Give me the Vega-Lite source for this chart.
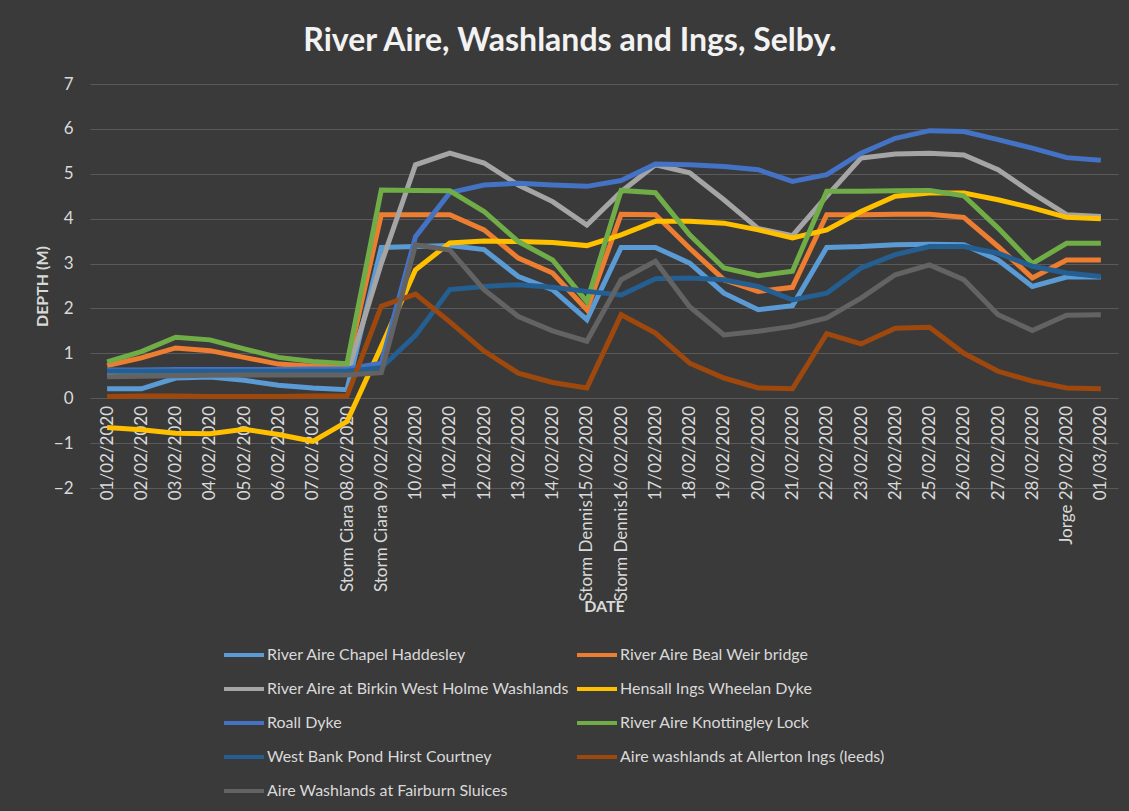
{
  "$schema": "https://vega.github.io/schema/vega-lite/v6.json",
  "width": 1028,
  "height": 404,
  "autosize": {"type": "none"},
  "padding": {"left": 90, "top": 84, "right": 11, "bottom": 323},
  "background": "#3a3a3a",
  "title": {
    "text": "River Aire, Washlands and Ings, Selby.",
    "font": "Lato",
    "fontSize": 32,
    "fontWeight": "bold",
    "color": "#f2f2f2",
    "anchor": "middle",
    "baseline": "alphabetic",
    "offset": -8,
    "dx": -34
  },
  "config": {
    "view": {"stroke": null},
    "axis": {"gridColor": "#5a5a5a", "gridWidth": 1}
  },
  "data": {
    "values": [
      {"date": "01/02/2020", "River Aire Chapel Haddesley": 0.21, "River Aire Beal Weir bridge": 0.73, "River Aire at Birkin West Holme Washlands": 0.52, "Hensall Ings Wheelan Dyke": -0.65, "Roall Dyke": 0.63, "River Aire Knottingley Lock": 0.81, "West Bank Pond Hirst Courtney": 0.6, "Aire washlands at Allerton Ings (leeds)": 0.04, "Aire Washlands at Fairburn Sluices": 0.48},
      {"date": "02/02/2020", "River Aire Chapel Haddesley": 0.21, "River Aire Beal Weir bridge": 0.9, "River Aire at Birkin West Holme Washlands": 0.52, "Hensall Ings Wheelan Dyke": -0.7, "Roall Dyke": 0.63, "River Aire Knottingley Lock": 1.04, "West Bank Pond Hirst Courtney": 0.6, "Aire washlands at Allerton Ings (leeds)": 0.05, "Aire Washlands at Fairburn Sluices": 0.49},
      {"date": "03/02/2020", "River Aire Chapel Haddesley": 0.45, "River Aire Beal Weir bridge": 1.12, "River Aire at Birkin West Holme Washlands": 0.53, "Hensall Ings Wheelan Dyke": -0.78, "Roall Dyke": 0.64, "River Aire Knottingley Lock": 1.36, "West Bank Pond Hirst Courtney": 0.6, "Aire washlands at Allerton Ings (leeds)": 0.05, "Aire Washlands at Fairburn Sluices": 0.5},
      {"date": "04/02/2020", "River Aire Chapel Haddesley": 0.47, "River Aire Beal Weir bridge": 1.06, "River Aire at Birkin West Holme Washlands": 0.53, "Hensall Ings Wheelan Dyke": -0.79, "Roall Dyke": 0.64, "River Aire Knottingley Lock": 1.3, "West Bank Pond Hirst Courtney": 0.6, "Aire washlands at Allerton Ings (leeds)": 0.04, "Aire Washlands at Fairburn Sluices": 0.51},
      {"date": "05/02/2020", "River Aire Chapel Haddesley": 0.4, "River Aire Beal Weir bridge": 0.91, "River Aire at Birkin West Holme Washlands": 0.53, "Hensall Ings Wheelan Dyke": -0.69, "Roall Dyke": 0.64, "River Aire Knottingley Lock": 1.1, "West Bank Pond Hirst Courtney": 0.6, "Aire washlands at Allerton Ings (leeds)": 0.04, "Aire Washlands at Fairburn Sluices": 0.52},
      {"date": "06/02/2020", "River Aire Chapel Haddesley": 0.29, "River Aire Beal Weir bridge": 0.76, "River Aire at Birkin West Holme Washlands": 0.53, "Hensall Ings Wheelan Dyke": -0.81, "Roall Dyke": 0.64, "River Aire Knottingley Lock": 0.91, "West Bank Pond Hirst Courtney": 0.6, "Aire washlands at Allerton Ings (leeds)": 0.04, "Aire Washlands at Fairburn Sluices": 0.52},
      {"date": "07/02/2020", "River Aire Chapel Haddesley": 0.23, "River Aire Beal Weir bridge": 0.71, "River Aire at Birkin West Holme Washlands": 0.53, "Hensall Ings Wheelan Dyke": -0.96, "Roall Dyke": 0.65, "River Aire Knottingley Lock": 0.82, "West Bank Pond Hirst Courtney": 0.6, "Aire washlands at Allerton Ings (leeds)": 0.05, "Aire Washlands at Fairburn Sluices": 0.52},
      {"date": "Storm  Ciara 08/02/2020", "River Aire Chapel Haddesley": 0.19, "River Aire Beal Weir bridge": 0.7, "River Aire at Birkin West Holme Washlands": 0.53, "Hensall Ings Wheelan Dyke": -0.52, "Roall Dyke": 0.65, "River Aire Knottingley Lock": 0.77, "West Bank Pond Hirst Courtney": 0.6, "Aire washlands at Allerton Ings (leeds)": 0.05, "Aire Washlands at Fairburn Sluices": 0.52},
      {"date": "Storm  Ciara 09/02/2020", "River Aire Chapel Haddesley": 3.36, "River Aire Beal Weir bridge": 4.09, "River Aire at Birkin West Holme Washlands": 3.0, "Hensall Ings Wheelan Dyke": 1.15, "Roall Dyke": 0.78, "River Aire Knottingley Lock": 4.64, "West Bank Pond Hirst Courtney": 0.68, "Aire washlands at Allerton Ings (leeds)": 2.05, "Aire Washlands at Fairburn Sluices": 0.57},
      {"date": "10/02/2020", "River Aire Chapel Haddesley": 3.38, "River Aire Beal Weir bridge": 4.09, "River Aire at Birkin West Holme Washlands": 5.2, "Hensall Ings Wheelan Dyke": 2.86, "Roall Dyke": 3.6, "River Aire Knottingley Lock": 4.63, "West Bank Pond Hirst Courtney": 1.4, "Aire washlands at Allerton Ings (leeds)": 2.32, "Aire Washlands at Fairburn Sluices": 3.42},
      {"date": "11/02/2020", "River Aire Chapel Haddesley": 3.4, "River Aire Beal Weir bridge": 4.09, "River Aire at Birkin West Holme Washlands": 5.46, "Hensall Ings Wheelan Dyke": 3.46, "Roall Dyke": 4.58, "River Aire Knottingley Lock": 4.62, "West Bank Pond Hirst Courtney": 2.42, "Aire washlands at Allerton Ings (leeds)": 1.7, "Aire Washlands at Fairburn Sluices": 3.3},
      {"date": "12/02/2020", "River Aire Chapel Haddesley": 3.31, "River Aire Beal Weir bridge": 3.75, "River Aire at Birkin West Holme Washlands": 5.24, "Hensall Ings Wheelan Dyke": 3.5, "Roall Dyke": 4.75, "River Aire Knottingley Lock": 4.16, "West Bank Pond Hirst Courtney": 2.49, "Aire washlands at Allerton Ings (leeds)": 1.05, "Aire Washlands at Fairburn Sluices": 2.42},
      {"date": "13/02/2020", "River Aire Chapel Haddesley": 2.71, "River Aire Beal Weir bridge": 3.12, "River Aire at Birkin West Holme Washlands": 4.75, "Hensall Ings Wheelan Dyke": 3.49, "Roall Dyke": 4.79, "River Aire Knottingley Lock": 3.49, "West Bank Pond Hirst Courtney": 2.53, "Aire washlands at Allerton Ings (leeds)": 0.56, "Aire Washlands at Fairburn Sluices": 1.82},
      {"date": "14/02/2020", "River Aire Chapel Haddesley": 2.42, "River Aire Beal Weir bridge": 2.79, "River Aire at Birkin West Holme Washlands": 4.38, "Hensall Ings Wheelan Dyke": 3.47, "Roall Dyke": 4.75, "River Aire Knottingley Lock": 3.08, "West Bank Pond Hirst Courtney": 2.47, "Aire washlands at Allerton Ings (leeds)": 0.35, "Aire Washlands at Fairburn Sluices": 1.5},
      {"date": "Storm  Dennis15/02/2020", "River Aire Chapel Haddesley": 1.75, "River Aire Beal Weir bridge": 1.97, "River Aire at Birkin West Holme Washlands": 3.86, "Hensall Ings Wheelan Dyke": 3.4, "Roall Dyke": 4.72, "River Aire Knottingley Lock": 2.15, "West Bank Pond Hirst Courtney": 2.38, "Aire washlands at Allerton Ings (leeds)": 0.23, "Aire Washlands at Fairburn Sluices": 1.27},
      {"date": "Storm  Dennis16/02/2020", "River Aire Chapel Haddesley": 3.36, "River Aire Beal Weir bridge": 4.1, "River Aire at Birkin West Holme Washlands": 4.6, "Hensall Ings Wheelan Dyke": 3.64, "Roall Dyke": 4.85, "River Aire Knottingley Lock": 4.63, "West Bank Pond Hirst Courtney": 2.3, "Aire washlands at Allerton Ings (leeds)": 1.86, "Aire Washlands at Fairburn Sluices": 2.64},
      {"date": "17/02/2020", "River Aire Chapel Haddesley": 3.36, "River Aire Beal Weir bridge": 4.09, "River Aire at Birkin West Holme Washlands": 5.2, "Hensall Ings Wheelan Dyke": 3.94, "Roall Dyke": 5.22, "River Aire Knottingley Lock": 4.58, "West Bank Pond Hirst Courtney": 2.66, "Aire washlands at Allerton Ings (leeds)": 1.45, "Aire Washlands at Fairburn Sluices": 3.05},
      {"date": "18/02/2020", "River Aire Chapel Haddesley": 3.01, "River Aire Beal Weir bridge": 3.34, "River Aire at Birkin West Holme Washlands": 5.02, "Hensall Ings Wheelan Dyke": 3.94, "Roall Dyke": 5.2, "River Aire Knottingley Lock": 3.64, "West Bank Pond Hirst Courtney": 2.68, "Aire washlands at Allerton Ings (leeds)": 0.78, "Aire Washlands at Fairburn Sluices": 2.04},
      {"date": "19/02/2020", "River Aire Chapel Haddesley": 2.34, "River Aire Beal Weir bridge": 2.64, "River Aire at Birkin West Holme Washlands": 4.42, "Hensall Ings Wheelan Dyke": 3.9, "Roall Dyke": 5.16, "River Aire Knottingley Lock": 2.9, "West Bank Pond Hirst Courtney": 2.64, "Aire washlands at Allerton Ings (leeds)": 0.45, "Aire Washlands at Fairburn Sluices": 1.41},
      {"date": "20/02/2020", "River Aire Chapel Haddesley": 1.97, "River Aire Beal Weir bridge": 2.38, "River Aire at Birkin West Holme Washlands": 3.78, "Hensall Ings Wheelan Dyke": 3.75, "Roall Dyke": 5.09, "River Aire Knottingley Lock": 2.73, "West Bank Pond Hirst Courtney": 2.49, "Aire washlands at Allerton Ings (leeds)": 0.23, "Aire Washlands at Fairburn Sluices": 1.49},
      {"date": "21/02/2020", "River Aire Chapel Haddesley": 2.06, "River Aire Beal Weir bridge": 2.47, "River Aire at Birkin West Holme Washlands": 3.62, "Hensall Ings Wheelan Dyke": 3.57, "Roall Dyke": 4.83, "River Aire Knottingley Lock": 2.83, "West Bank Pond Hirst Courtney": 2.19, "Aire washlands at Allerton Ings (leeds)": 0.21, "Aire Washlands at Fairburn Sluices": 1.6},
      {"date": "22/02/2020", "River Aire Chapel Haddesley": 3.36, "River Aire Beal Weir bridge": 4.09, "River Aire at Birkin West Holme Washlands": 4.5, "Hensall Ings Wheelan Dyke": 3.75, "Roall Dyke": 4.98, "River Aire Knottingley Lock": 4.61, "West Bank Pond Hirst Courtney": 2.34, "Aire washlands at Allerton Ings (leeds)": 1.44, "Aire Washlands at Fairburn Sluices": 1.79},
      {"date": "23/02/2020", "River Aire Chapel Haddesley": 3.38, "River Aire Beal Weir bridge": 4.09, "River Aire at Birkin West Holme Washlands": 5.35, "Hensall Ings Wheelan Dyke": 4.16, "Roall Dyke": 5.46, "River Aire Knottingley Lock": 4.61, "West Bank Pond Hirst Courtney": 2.9, "Aire washlands at Allerton Ings (leeds)": 1.21, "Aire Washlands at Fairburn Sluices": 2.23},
      {"date": "24/02/2020", "River Aire Chapel Haddesley": 3.42, "River Aire Beal Weir bridge": 4.1, "River Aire at Birkin West Holme Washlands": 5.44, "Hensall Ings Wheelan Dyke": 4.5, "Roall Dyke": 5.79, "River Aire Knottingley Lock": 4.62, "West Bank Pond Hirst Courtney": 3.2, "Aire washlands at Allerton Ings (leeds)": 1.56, "Aire Washlands at Fairburn Sluices": 2.75},
      {"date": "25/02/2020", "River Aire Chapel Haddesley": 3.43, "River Aire Beal Weir bridge": 4.1, "River Aire at Birkin West Holme Washlands": 5.46, "Hensall Ings Wheelan Dyke": 4.57, "Roall Dyke": 5.96, "River Aire Knottingley Lock": 4.63, "West Bank Pond Hirst Courtney": 3.38, "Aire washlands at Allerton Ings (leeds)": 1.58, "Aire Washlands at Fairburn Sluices": 2.97},
      {"date": "26/02/2020", "River Aire Chapel Haddesley": 3.42, "River Aire Beal Weir bridge": 4.03, "River Aire at Birkin West Holme Washlands": 5.42, "Hensall Ings Wheelan Dyke": 4.57, "Roall Dyke": 5.94, "River Aire Knottingley Lock": 4.51, "West Bank Pond Hirst Courtney": 3.38, "Aire washlands at Allerton Ings (leeds)": 1.0, "Aire Washlands at Fairburn Sluices": 2.64},
      {"date": "27/02/2020", "River Aire Chapel Haddesley": 3.08, "River Aire Beal Weir bridge": 3.38, "River Aire at Birkin West Holme Washlands": 5.09, "Hensall Ings Wheelan Dyke": 4.42, "Roall Dyke": 5.76, "River Aire Knottingley Lock": 3.79, "West Bank Pond Hirst Courtney": 3.23, "Aire washlands at Allerton Ings (leeds)": 0.6, "Aire Washlands at Fairburn Sluices": 1.86},
      {"date": "28/02/2020", "River Aire Chapel Haddesley": 2.49, "River Aire Beal Weir bridge": 2.68, "River Aire at Birkin West Holme Washlands": 4.57, "Hensall Ings Wheelan Dyke": 4.24, "Roall Dyke": 5.57, "River Aire Knottingley Lock": 3.0, "West Bank Pond Hirst Courtney": 2.94, "Aire washlands at Allerton Ings (leeds)": 0.38, "Aire Washlands at Fairburn Sluices": 1.51},
      {"date": "Jorge 29/02/2020", "River Aire Chapel Haddesley": 2.7, "River Aire Beal Weir bridge": 3.08, "River Aire at Birkin West Holme Washlands": 4.09, "Hensall Ings Wheelan Dyke": 4.03, "Roall Dyke": 5.36, "River Aire Knottingley Lock": 3.45, "West Bank Pond Hirst Courtney": 2.79, "Aire washlands at Allerton Ings (leeds)": 0.23, "Aire Washlands at Fairburn Sluices": 1.85},
      {"date": "01/03/2020", "River Aire Chapel Haddesley": 2.7, "River Aire Beal Weir bridge": 3.08, "River Aire at Birkin West Holme Washlands": 4.05, "Hensall Ings Wheelan Dyke": 4.0, "Roall Dyke": 5.3, "River Aire Knottingley Lock": 3.45, "West Bank Pond Hirst Courtney": 2.71, "Aire washlands at Allerton Ings (leeds)": 0.21, "Aire Washlands at Fairburn Sluices": 1.86}
    ]
  },
  "transform": [
    {"fold": ["River Aire Chapel Haddesley", "River Aire Beal Weir bridge", "River Aire at Birkin West Holme Washlands", "Hensall Ings Wheelan Dyke", "Roall Dyke", "River Aire Knottingley Lock", "West Bank Pond Hirst Courtney", "Aire washlands at Allerton Ings (leeds)", "Aire Washlands at Fairburn Sluices"], "as": ["series", "depth"]}
  ],
  "mark": {"type": "line", "strokeWidth": 5, "strokeJoin": "miter"},
  "encoding": {
    "x": {
      "field": "date",
      "type": "nominal",
      "sort": null,
      "scale": {"type": "point", "padding": 0.5},
      "axis": {
        "title": "DATE",
        "offset": -89.5,
        "labelAngle": -90,
        "labelColor": "#d9d9d9",
        "labelFont": "Lato",
        "labelFontSize": 17,
        "labelPadding": 7,
        "labelLimit": 400,
        "ticks": false,
        "domain": false,
        "grid": false,
        "titleColor": "#d9d9d9",
        "titleFont": "Lato",
        "titleFontSize": 16,
        "titleFontWeight": "bold",
        "titlePadding": 0
      }
    },
    "y": {
      "field": "depth",
      "type": "quantitative",
      "scale": {"domain": [-2, 7], "nice": false},
      "axis": {
        "title": "DEPTH (M)",
        "values": [-2, -1, 0, 1, 2, 3, 4, 5, 6, 7],
        "labelColor": "#d9d9d9",
        "labelFont": "Lato",
        "labelFontSize": 17,
        "labelPadding": 17,
        "ticks": false,
        "domain": false,
        "titleColor": "#d9d9d9",
        "titleFont": "Lato",
        "titleFontSize": 16,
        "titleFontWeight": "bold",
        "titlePadding": 3
      }
    },
    "color": {
      "field": "series",
      "type": "nominal",
      "scale": {
        "domain": ["River Aire Chapel Haddesley", "River Aire Beal Weir bridge", "River Aire at Birkin West Holme Washlands", "Hensall Ings Wheelan Dyke", "Roall Dyke", "River Aire Knottingley Lock", "West Bank Pond Hirst Courtney", "Aire washlands at Allerton Ings (leeds)", "Aire Washlands at Fairburn Sluices"],
        "range": ["#5B9BD5", "#ED7D31", "#A5A5A5", "#FFC000", "#4472C4", "#70AD47", "#255E91", "#9E480E", "#636363"]
      },
      "legend": {
        "orient": "none",
        "legendX": 132,
        "legendY": 549,
        "direction": "horizontal",
        "columns": 2,
        "title": null,
        "symbolType": "stroke",
        "symbolStrokeWidth": 4,
        "symbolSize": 1600,
        "labelFont": "Lato",
        "labelFontSize": 16,
        "labelColor": "#d9d9d9",
        "labelLimit": 400,
        "labelOffset": 1,
        "rowPadding": 4,
        "columnPadding": -1
      }
    }
  }
}
